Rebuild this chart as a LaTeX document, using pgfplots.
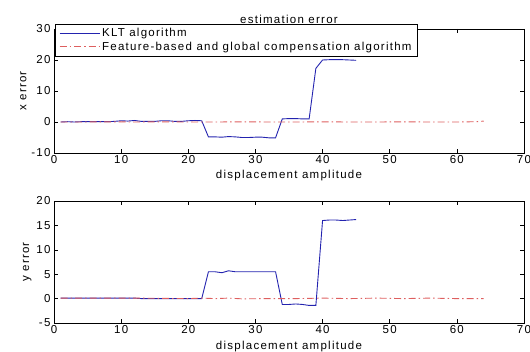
\documentclass[border=0pt]{standalone}
\usepackage{pgfplots}
\pgfplotsset{compat=1.18}
\usepackage{fontspec}
\setmainfont{Liberation Sans}[LetterSpace=11]
\definecolor{kltblue}{RGB}{35,35,175}
\definecolor{fbred}{RGB}{222,95,95}
\pgfplotstableread{
x y
1 0.0
2 0.1
3 0.0
4 0.1
5 0.1
6 0.1
7 0.1
8 0.1
9 0.2
10 0.4
11 0.3
12 0.5
13 0.2
14 0.2
15 0.2
16 0.4
17 0.4
18 0.2
19 0.2
20 0.4
21 0.5
22 0.4
23 -4.8
24 -4.8
25 -4.9
26 -4.7
27 -4.8
28 -5.0
29 -5.0
30 -4.9
31 -4.9
32 -5.1
33 -5.1
34 1.0
35 1.1
36 1.1
37 1.0
38 1.0
39 17.3
40 20.0
41 20.1
42 20.1
43 20.1
44 20.0
45 19.9
}\kltx
\pgfplotstableread{
x y
1 0.0
4 0.0
8 0.05
12 0.0
16 0.05
20 0.0
24 0.0
28 0.05
32 0.0
36 0.0
40 0.05
44 0.0
48 0.0
52 0.05
56 0.0
60 0.0
63 0.1
64 0.3
}\fbx
\pgfplotstableread{
x y
1 0.1
2 0.1
3 0.1
4 0.1
5 0.1
6 0.1
7 0.1
8 0.1
9 0.1
10 0.1
11 0.1
12 0.1
13 0.0
14 0.0
15 0.0
16 0.0
17 0.0
18 0.0
19 0.0
20 0.0
21 0.0
22 0.0
23 5.5
24 5.5
25 5.3
26 5.7
27 5.5
28 5.5
29 5.5
30 5.5
31 5.5
32 5.5
33 5.5
34 -1.2
35 -1.2
36 -1.1
37 -1.2
38 -1.4
39 -1.4
40 16.0
41 16.1
42 16.1
43 16.0
44 16.1
45 16.2
}\klty
\pgfplotstableread{
x y
1 0.1
4 0.1
8 0.1
12 0.1
16 0.05
20 0.0
22 0.1
24 0.0
26 0.1
28 -0.05
32 0.0
36 0.0
40 0.1
44 0.0
48 0.1
52 0.0
56 0.1
60 0.0
64 0.0
}\fby
\begin{document}
\begin{tikzpicture}
\pgfplotsset{
  myax/.style={
    scale only axis, width=470bp,
    font=\fontsize{11.5bp}{13bp}\selectfont,
    xmin=0, xmax=70, xtick={0,10,...,70},
    tick align=inside, major tick length=4bp,
    /pgf/number format/assume math mode=true,
    xlabel={displacement amplitude},
    axis line style={black, line width=0.6bp},
    tick style={black, line width=0.5bp},
    xticklabel style={yshift=1bp},
    xlabel style={yshift=0bp},
    ylabel style={yshift=-2bp},
    clip=false,
  },
  kltline/.style={color=kltblue, line width=0.9bp},
  fbline/.style={color=fbred, line width=0.9bp, dash pattern=on 7bp off 3bp on 1.5bp off 3bp},
}
\begin{axis}[myax, at={(54bp,199bp)}, anchor=south west, height=124bp,
  ymin=-10, ymax=30, ytick={-10,0,...,30},
  ylabel={x error},
  title={estimation error},
  title style={yshift=-4bp},
  legend cell align=left,
  legend image code/.code={\draw[#1] (0bp,0bp) -- (40bp,0bp);},
  legend style={at={(axis description cs:0,1)}, anchor=north west, yshift=5bp, xshift=1bp,
    inner xsep=4bp, inner ysep=2bp,
    font=\fontsize{11.5bp}{13bp}\selectfont, row sep=0bp},
]
\addplot[kltline] table[x=x,y=y] {\kltx};
\addlegendentry{KLT algorithm}
\addplot[fbline] table[x=x,y=y] {\fbx};
\addlegendentry{Feature-based and global compensation algorithm}
\end{axis}
\begin{axis}[myax, at={(54bp,29bp)}, anchor=south west, height=122bp,
  ymin=-5, ymax=20, ytick={-5,0,...,20},
  ylabel={y error},
  xlabel style={yshift=-1bp},
]
\addplot[kltline] table[x=x,y=y] {\klty};
\addplot[fbline] table[x=x,y=y] {\fby};
\end{axis}
\pgfresetboundingbox
\useasboundingbox (0,0) rectangle (530bp,352bp);
\end{tikzpicture}
\end{document}
